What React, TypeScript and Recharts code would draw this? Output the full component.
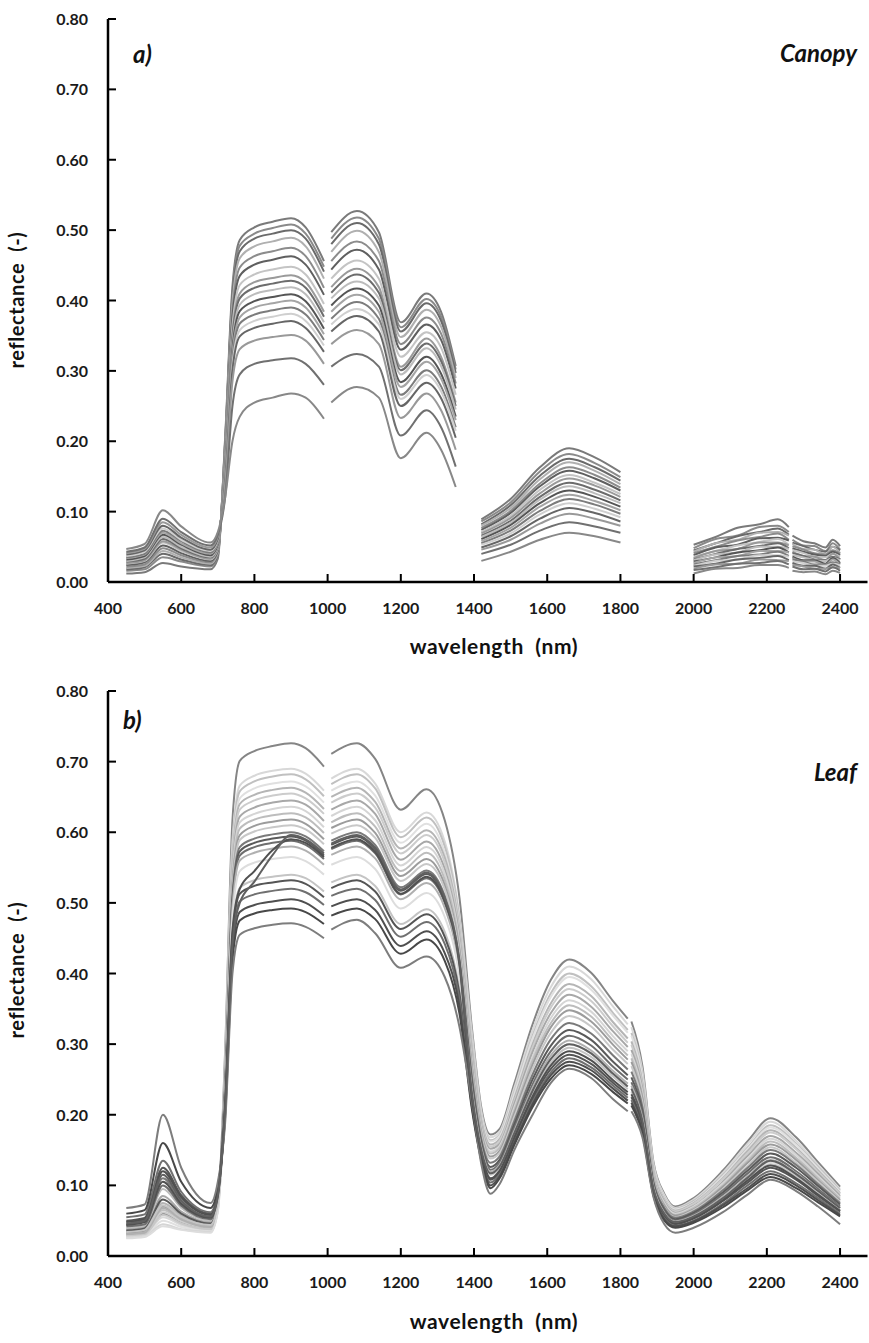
import React from 'react';
import { LineChart, Line, XAxis, YAxis } from 'recharts';

// ---------- Canopy (panel a) ----------
const canopyWl = [450, 500, 550, 600, 680, 700, 720, 740, 760, 800, 850, 900, 940, 990,
  1010, 1080, 1140, 1200, 1270, 1310, 1350,
  1420, 1500, 1580, 1660, 1730, 1800,
  2000, 2060, 2120, 2180, 2230, 2260,
  2270, 2300, 2330, 2360, 2380, 2400];
const canopyGapWl = [1000, 1385, 1900, 2265];
const canopySpectra: number[][] = [
  [.012,.014,.027,.022,.018,.033,.205,.420,.486,.504,.512,.517,.504,.456, .497,.527,.497,.369,.410,.384,.307, .089,.118,.163,.190,.177,.156, .053,.064,.077,.082,.089,.078, .066,.058,.055,.049,.060,.051],
  [.016,.018,.035,.029,.022,.037,.201,.412,.478,.495,.503,.508,.495,.448, .488,.518,.488,.362,.402,.377,.302, .086,.113,.157,.182,.169,.149, .048,.061,.066,.078,.080,.071, .060,.052,.051,.044,.055,.046],
  [.018,.021,.040,.032,.024,.039,.198,.406,.470,.488,.495,.500,.488,.441, .480,.510,.480,.356,.396,.371,.297, .082,.109,.151,.175,.163,.144, .045,.055,.065,.071,.076,.067, .056,.051,.046,.043,.050,.045],
  [.020,.023,.044,.035,.026,.041,.194,.397,.460,.477,.484,.489,.477,.431, .469,.499,.469,.348,.387,.363,.290, .080,.105,.146,.170,.158,.139, .043,.055,.060,.070,.071,.066, .054,.047,.046,.039,.050,.041],
  [.022,.025,.048,.038,.028,.043,.188,.385,.447,.463,.470,.475,.463,.418, .456,.484,.456,.338,.376,.353,.282, .077,.101,.140,.163,.152,.134, .041,.050,.059,.064,.069,.060, .051,.046,.041,.039,.045,.040],
  [.024,.028,.052,.041,.030,.045,.183,.376,.435,.451,.458,.463,.451,.408, .444,.472,.444,.330,.366,.344,.275, .074,.098,.136,.158,.147,.130, .038,.049,.053,.062,.063,.059, .048,.043,.039,.037,.043,.038],
  [.026,.030,.056,.044,.032,.047,.178,.364,.422,.437,.444,.448,.437,.395, .431,.457,.431,.320,.355,.333,.266, .071,.094,.131,.152,.141,.125, .036,.044,.052,.057,.061,.053, .045,.041,.036,.035,.040,.036],
  [.027,.031,.058,.046,.033,.048,.173,.354,.410,.426,.432,.436,.426,.384, .419,.445,.419,.306,.346,.320,.255, .069,.091,.126,.147,.137,.121, .034,.044,.047,.056,.056,.052, .043,.037,.036,.031,.040,.032],
  [.029,.033,.061,.048,.035,.050,.170,.348,.403,.418,.424,.428,.418,.377, .411,.437,.411,.301,.339,.314,.250, .066,.087,.121,.141,.131,.116, .032,.040,.047,.051,.055,.048, .041,.037,.032,.031,.036,.032],
  [.030,.035,.064,.050,.036,.051,.166,.340,.394,.409,.415,.419,.409,.369, .403,.427,.403,.295,.332,.307,.245, .064,.084,.117,.136,.126,.112, .031,.039,.042,.050,.050,.047, .038,.035,.031,.030,.034,.031],
  [.032,.037,.067,.053,.038,.053,.162,.332,.385,.399,.405,.409,.399,.360, .393,.417,.393,.284,.320,.296,.235, .061,.081,.112,.130,.121,.107, .029,.035,.042,.045,.049,.042, .036,.031,.031,.026,.034,.027],
  [.034,.039,.070,.055,.040,.055,.158,.325,.376,.390,.396,.400,.390,.352, .384,.408,.384,.277,.313,.289,.230, .058,.077,.107,.124,.115,.102, .027,.035,.037,.044,.044,.042, .034,.029,.029,.024,.032,.025],
  [.035,.040,.073,.058,.042,.057,.154,.317,.367,.380,.386,.390,.380,.344, .374,.398,.374,.266,.301,.278,.220, .055,.073,.101,.118,.110,.097, .025,.031,.037,.039,.043,.037, .032,.029,.025,.025,.028,.025],
  [.037,.043,.076,.060,.044,.059,.151,.309,.358,.371,.377,.381,.371,.336, .366,.388,.366,.260,.294,.271,.215, .053,.069,.096,.112,.104,.092, .023,.030,.032,.038,.038,.036, .029,.027,.023,.023,.026,.024],
  [.039,.045,.080,.063,.046,.061,.147,.301,.349,.361,.367,.371,.361,.327, .356,.378,.356,.250,.283,.261,.205, .049,.065,.090,.105,.098,.086, .022,.026,.032,.034,.037,.031, .027,.023,.023,.019,.025,.020],
  [.041,.047,.085,.067,.049,.064,.139,.285,.331,.343,.348,.351,.343,.310, .338,.358,.338,.233,.268,.244,.188, .046,.060,.083,.097,.090,.080, .019,.025,.026,.032,.031,.030, .024,.022,.019,.019,.021,.020],
  [.043,.049,.090,.071,.052,.067,.120,.250,.295,.310,.315,.318,.310,.280, .306,.324,.306,.208,.244,.220,.164, .040,.053,.073,.085,.079,.070, .017,.021,.026,.027,.030,.025, .022,.018,.019,.015,.021,.016],
  [.047,.054,.102,.079,.056,.071,.120,.200,.235,.255,.262,.268,.262,.232, .255,.277,.262,.176,.212,.188,.135, .030,.043,.060,.070,.065,.056, .012,.019,.020,.024,.024,.020, .016,.014,.015,.011,.016,.013],
];
const canopyColors = ['#7a7a7a', '#8a8a8a', '#6a6a6a', '#b0b0b0', '#8c8c8c', '#5f5f5f', '#c4c4c4', '#9a9a9a', '#6c6c6c',
  '#bcbcbc', '#555555', '#a5a5a5', '#7c7c7c', '#cfcfcf', '#666666', '#999999', '#707070', '#888888'];

// ---------- Leaf (panel b) ----------
const leafWl = [450, 500, 550, 600, 680, 700, 720, 740, 760, 800, 850, 900, 940, 990,
  1010, 1080, 1130, 1200, 1270, 1320, 1360, 1395, 1420, 1445, 1470, 1510, 1560, 1610, 1660, 1720, 1780, 1820,
  1830, 1860, 1890, 1920, 1950, 2000, 2080, 2150, 2210, 2280, 2340, 2400];
const leafGapWl = [1000, 1825];
const leafSpectra: number[][] = [
  [.030,.032,.060,.048,.040,.070,.290,.617,.701,.715,.722,.726,.719,.693, .711,.726,.704,.632,.661,.617,.508,.319,.210,.172,.180,.244,.328,.391,.420,.401,.361,.336, .332,.269,.134,.088,.070,.082,.121,.164,.195,.168,.133,.098],
  [.028,.030,.055,.044,.037,.067,.276,.587,.666,.680,.687,.690,.683,.659, .676,.690,.669,.600,.628,.587,.483,.312,.205,.168,.176,.238,.320,.381,.410,.392,.353,.328, .324,.262,.131,.086,.068,.080,.118,.160,.190,.163,.129,.095],
  [.032,.035,.065,.051,.042,.072,.273,.580,.658,.672,.679,.682,.675,.651, .668,.682,.662,.593,.621,.580,.477,.304,.200,.164,.172,.232,.312,.372,.400,.382,.344,.320, .316,.256,.128,.083,.067,.078,.115,.155,.185,.159,.126,.093],
  [.027,.029,.050,.041,.035,.065,.269,.571,.648,.662,.669,.672,.665,.642, .659,.672,.652,.585,.612,.571,.470,.300,.198,.162,.170,.229,.308,.367,.395,.377,.340,.316, .312,.253,.126,.082,.066,.076,.113,.153,.182,.157,.124,.091],
  [.035,.038,.075,.057,.045,.075,.265,.564,.640,.653,.660,.663,.656,.633, .650,.663,.643,.577,.603,.564,.464,.293,.193,.158,.166,.223,.300,.358,.385,.368,.331,.308, .304,.246,.123,.080,.064,.075,.110,.150,.178,.153,.121,.089],
  [.030,.032,.062,.049,.040,.070,.262,.557,.632,.645,.652,.655,.648,.626, .642,.655,.635,.570,.596,.557,.459,.287,.189,.155,.163,.219,.295,.352,.378,.361,.325,.302, .299,.242,.121,.079,.063,.074,.109,.147,.175,.151,.119,.088],
  [.038,.041,.085,.063,.048,.078,.258,.548,.622,.635,.642,.645,.639,.616, .632,.645,.626,.561,.587,.548,.452,.281,.185,.152,.159,.215,.289,.344,.370,.353,.318,.296, .292,.237,.118,.077,.061,.071,.105,.143,.170,.146,.116,.085],
  [.026,.028,.045,.038,.034,.064,.254,.541,.614,.626,.633,.636,.630,.607, .623,.636,.617,.553,.579,.541,.445,.275,.181,.148,.156,.210,.282,.337,.362,.346,.311,.290, .286,.232,.116,.075,.060,.070,.103,.139,.166,.143,.113,.083],
  [.040,.043,.095,.068,.050,.080,.251,.533,.605,.618,.624,.627,.621,.599, .614,.627,.608,.545,.571,.533,.439,.270,.178,.145,.153,.206,.277,.330,.355,.339,.305,.284, .280,.227,.114,.073,.058,.068,.100,.136,.162,.139,.110,.081],
  [.033,.036,.070,.054,.043,.073,.247,.525,.596,.609,.615,.618,.612,.590, .606,.618,.599,.538,.562,.525,.433,.264,.174,.141,.149,.202,.271,.324,.348,.332,.299,.278, .275,.223,.111,.071,.057,.066,.098,.133,.158,.136,.107,.079],
  [.029,.031,.058,.046,.038,.068,.244,.519,.589,.601,.607,.610,.604,.583, .598,.610,.592,.531,.555,.519,.427,.258,.170,.138,.146,.197,.265,.316,.340,.325,.292,.272, .269,.218,.109,.069,.055,.065,.095,.129,.154,.132,.105,.077],
  [.045,.049,.110,.077,.055,.085,.240,.510,.579,.591,.597,.600,.594,.573, .588,.600,.582,.522,.546,.510,.420,.251,.165,.132,.141,.191,.257,.307,.330,.315,.284,.264, .261,.211,.106,.068,.054,.063,.093,.126,.150,.129,.102,.075],
  [.036,.039,.080,.060,.046,.076,.238,.505,.573,.585,.591,.594,.588,.567, .582,.594,.576,.517,.541,.505,.416,.243,.160,.126,.136,.186,.250,.298,.320,.306,.275,.256, .253,.205,.102,.065,.052,.061,.090,.122,.145,.125,.099,.073],
  [.042,.045,.100,.071,.052,.082,.235,.500,.567,.579,.585,.588,.582,.562, .576,.588,.570,.512,.535,.500,.412,.237,.156,.122,.132,.181,.243,.290,.312,.298,.268,.250, .246,.200,.100,.063,.050,.059,.087,.118,.140,.120,.095,.070],
  [.031,.033,.068,.052,.041,.071,.232,.493,.560,.571,.577,.580,.574,.554, .568,.580,.563,.505,.528,.493,.406,.232,.153,.119,.129,.177,.238,.284,.305,.291,.262,.244, .241,.195,.098,.061,.049,.057,.084,.114,.136,.117,.092,.068],
  [.025,.027,.042,.037,.033,.063,.226,.480,.545,.557,.562,.565,.559,.540, .554,.565,.548,.492,.514,.480,.396,.228,.150,.117,.127,.174,.234,.279,.300,.287,.258,.240, .237,.192,.096,.060,.048,.056,.082,.112,.133,.114,.090,.067],
  [.034,.037,.072,.055,.044,.074,.216,.459,.521,.532,.537,.540,.535,.516, .529,.540,.524,.470,.491,.459,.378,.224,.148,.115,.125,.171,.230,.274,.295,.282,.254,.236, .233,.189,.094,.059,.047,.055,.081,.109,.130,.112,.088,.065],
  [.050,.054,.125,.086,.060,.090,.213,.452,.513,.524,.529,.532,.527,.508, .521,.532,.516,.463,.484,.452,.372,.217,.143,.108,.119,.165,.222,.265,.285,.272,.245,.228, .225,.182,.091,.056,.045,.053,.078,.105,.125,.108,.085,.063],
  [.055,.059,.135,.091,.062,.092,.208,.442,.502,.512,.517,.520,.515,.497, .510,.520,.504,.452,.473,.442,.364,.213,.140,.104,.116,.162,.218,.260,.280,.267,.241,.224, .221,.179,.090,.054,.043,.050,.074,.101,.120,.103,.082,.060],
  [.048,.052,.120,.083,.058,.088,.202,.429,.487,.497,.502,.505,.500,.482, .495,.505,.490,.439,.460,.429,.354,.209,.138,.100,.113,.160,.215,.256,.275,.263,.237,.220, .217,.176,.088,.052,.042,.049,.072,.097,.116,.100,.079,.058],
  [.060,.065,.160,.105,.068,.098,.197,.418,.475,.485,.490,.492,.487,.470, .482,.492,.477,.428,.448,.418,.344,.205,.135,.096,.110,.157,.211,.251,.270,.258,.232,.216, .213,.173,.086,.050,.040,.047,.069,.094,.112,.096,.076,.056],
  [.068,.073,.200,.125,.075,.105,.188,.400,.455,.464,.469,.471,.466,.450, .462,.476,.457,.408,.424,.395,.325,.215,.130,.088,.102,.150,.200,.245,.265,.252,.222,.205, .205,.168,.084,.045,.033,.040,.062,.088,.108,.092,.070,.045],
  [.044,.048,.105,.074,.054,.084,.220,.460,.520,.545,.575,.590,.585,.565, .578,.590,.572,.513,.537,.502,.413,.220,.145,.110,.121,.168,.226,.270,.290,.277,.249,.232, .229,.186,.093,.058,.046,.054,.079,.108,.128,.110,.087,.064],
  [.046,.050,.115,.079,.056,.086,.210,.440,.500,.530,.568,.596,.590,.570, .584,.596,.578,.519,.543,.507,.417,.228,.150,.117,.127,.174,.234,.279,.300,.287,.258,.240, .237,.192,.096,.060,.048,.056,.082,.112,.135,.116,.092,.068],
];
const leafColors = ['#858585', '#d8d8d8', '#c0c0c0', '#e0e0e0', '#b5b5b5', '#cccccc', '#a8a8a8', '#d5d5d5',
  '#bdbdbd', '#9c9c9c', '#c8c8c8', '#7a7a7a', '#5a5a5a', '#6e6e6e', '#b0b0b0', '#dddddd', '#c4c4c4',
  '#555555', '#707070', '#4f4f4f', '#484848', '#7d7d7d', '#505050', '#606060'];

// ---------- Axes ----------
const xTicks = [400, 600, 800, 1000, 1200, 1400, 1600, 1800, 2000, 2200, 2400];
const yTicks = [0, 0.1, 0.2, 0.3, 0.4, 0.5, 0.6, 0.7, 0.8];

const FONT = 'Lato, "Open Sans", "DejaVu Sans", sans-serif';

function buildRows(wl: number[], gaps: number[], spectra: number[][]) {
  const rows: any[] = wl.map((w, i) => {
    const r: any = { wl: w };
    spectra.forEach((s, k) => {
      r['s' + k] = s[i];
    });
    return r;
  });
  gaps.forEach((g) => rows.push({ wl: g }));
  rows.sort((a, b) => a.wl - b.wl);
  return rows;
}

const canopyRows = buildRows(canopyWl, canopyGapWl, canopySpectra);
const leafRows = buildRows(leafWl, leafGapWl, leafSpectra);

const renderXTick = (props: any) => {
  const { x, y, payload } = props;
  return (
    <g>
      <line x1={x} x2={x} y1={y} y2={y - 8} stroke="#000" strokeWidth={2} />
      <text x={x} y={y + 32} textAnchor="middle" fontFamily={FONT} fontWeight={700} fontSize={16} fill="#1a1a1a">
        {payload.value}
      </text>
    </g>
  );
};

const renderYTick = (props: any) => {
  const { x, y, payload } = props;
  return (
    <g>
      <line x1={x} x2={x + 8} y1={y} y2={y} stroke="#000" strokeWidth={2} />
      <text x={x - 20} y={y + 6} textAnchor="end" fontFamily={FONT} fontWeight={700} fontSize={16} fill="#1a1a1a">
        {Number(payload.value).toFixed(2)}
      </text>
    </g>
  );
};

function Panel(props: { rows: any[]; colors: string[]; height: number; top: number; bottom: number }) {
  const { rows, colors, height, top, bottom } = props;
  return (
    <LineChart width={869} height={height} data={rows} margin={{ top, right: 1.5, bottom, left: 48 }}>
      <XAxis
        dataKey="wl"
        type="number"
        domain={[400, 2475]}
        ticks={xTicks}
        interval={0}
        allowDataOverflow
        tickSize={0}
        tickMargin={0}
        tickLine={false}
        axisLine={{ stroke: '#000', strokeWidth: 2.5 }}
        tick={renderXTick}
        height={30}
      />
      <YAxis
        type="number"
        domain={[0, 0.8]}
        ticks={yTicks}
        interval={0}
        allowDataOverflow
        width={60}
        tickSize={0}
        tickMargin={0}
        tickLine={false}
        axisLine={{ stroke: '#000', strokeWidth: 2.5 }}
        tick={renderYTick}
      />
      {colors.map((c, k) => (
        <Line
          key={k}
          dataKey={'s' + k}
          stroke={c}
          strokeWidth={2}
          dot={false}
          activeDot={false}
          type="monotone"
          connectNulls={false}
          isAnimationActive={false}
        />
      ))}
    </LineChart>
  );
}

export default function App() {
  return (
    <div style={{ position: 'absolute', left: 0, top: 0, width: 869, height: 1343, background: '#fff', overflow: 'hidden' }}>
      <div style={{ position: 'absolute', left: 0, top: 0 }}>
        <Panel rows={canopyRows} colors={canopyColors} height={670} top={19} bottom={58} />
      </div>
      <div style={{ position: 'absolute', left: 0, top: 670 }}>
        <Panel rows={leafRows} colors={leafColors} height={673} top={21} bottom={57} />
      </div>
      <svg width={869} height={1343} style={{ position: 'absolute', left: 0, top: 0, pointerEvents: 'none' }}>
        <g fontFamily={FONT} fontWeight={700} fill="#111">
          <text x={133} y={63} fontSize={24} fontStyle="italic">a)</text>
          <text x={857} y={62} fontSize={24} fontStyle="italic" textAnchor="end">Canopy</text>
          <text x={123} y={729} fontSize={24} fontStyle="italic">b)</text>
          <text x={857} y={781} fontSize={24} fontStyle="italic" textAnchor="end">Leaf</text>
          <text x={494} y={654} fontSize={21} textAnchor="middle" letterSpacing={0.6} style={{ whiteSpace: 'pre' }}>
            {'wavelength  (nm)'}
          </text>
          <text x={494} y={1329} fontSize={21} textAnchor="middle" letterSpacing={0.6} style={{ whiteSpace: 'pre' }}>
            {'wavelength  (nm)'}
          </text>
          <text x={24} y={300} fontSize={20} textAnchor="middle" letterSpacing={0.6} transform="rotate(-90 24 300)" style={{ whiteSpace: 'pre' }}>
            {'reflectance  (-)'}
          </text>
          <text x={24} y={970} fontSize={20} textAnchor="middle" letterSpacing={0.6} transform="rotate(-90 24 970)" style={{ whiteSpace: 'pre' }}>
            {'reflectance  (-)'}
          </text>
        </g>
      </svg>
    </div>
  );
}
